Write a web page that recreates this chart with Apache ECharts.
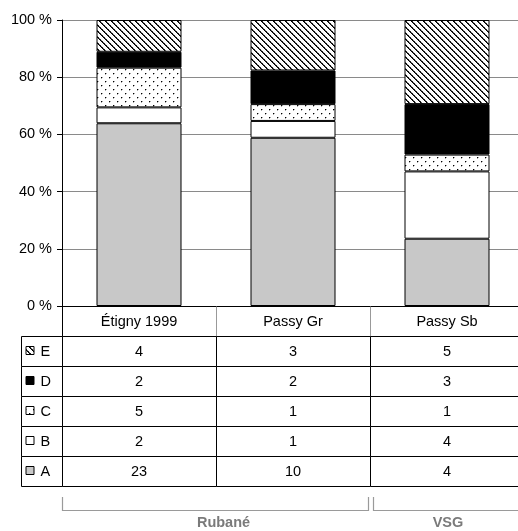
<!DOCTYPE html>
<html><head><meta charset="utf-8">
<script src="https://cdn.jsdelivr.net/npm/echarts@6/dist/echarts.min.js"></script>
<style>html,body{margin:0;padding:0;background:#fff;overflow:hidden}#c{width:524px;height:531px}</style>
</head><body><div id="c"></div>
<script>
// ---- data ----
const categories = ['Étigny 1999', 'Passy Gr', 'Passy Sb'];
const typeNames = ['A', 'B', 'C', 'D', 'E'];
const countA = [23, 10, 4];
const countB = [2, 1, 4];
const countC = [5, 1, 1];
const countD = [2, 2, 3];
const countE = [4, 3, 5];
const yTicks = [0, 20, 40, 60, 80, 100];
const groupNames = ['Rubané', 'VSG'];
const groupStart = [0, 2];
const groupEnd = [1, 2];

// ---- styles ----
const FONT = '"Liberation Sans", Arial, sans-serif';
const FS = 14.5;
function hatchPattern() {
  const c = document.createElement('canvas'); c.width = 6; c.height = 6;
  const g = c.getContext('2d'); g.fillStyle = '#fff'; g.fillRect(0, 0, 6, 6);
  for (let i = 0; i < 6; i++) {
    g.fillStyle = '#000'; g.fillRect(i, i, 1, 1);
    g.fillStyle = i % 2 ? '#222' : '#666'; g.fillRect((i + 1) % 6, i, 1, 1);
  }
  return c;
}
function dotPattern() {
  const c = document.createElement('canvas'); c.width = 8; c.height = 8;
  const g = c.getContext('2d'); g.fillStyle = '#fff'; g.fillRect(0, 0, 8, 8);
  [[1, 1], [5, 5]].forEach(([x, y]) => {
    g.fillStyle = '#000'; g.fillRect(x, y, 1, 1);
    g.fillStyle = '#aaa'; g.fillRect(x + 1, y, 1, 1); g.fillRect(x, y + 1, 1, 1);
  });
  return c;
}
const fills = {
  A: '#c8c8c8',
  B: '#ffffff',
  C: { image: dotPattern(), repeat: 'repeat' },
  D: '#000000',
  E: { image: hatchPattern(), repeat: 'repeat' }
};
const counts = { A: countA, B: countB, C: countC, D: countD, E: countE };
const totals = categories.map((_, i) => typeNames.reduce((s, t) => s + counts[t][i], 0));
const rowLetters = typeNames.slice().reverse(); // E, D, C, B, A

const chart = echarts.init(document.getElementById('c'), null, { renderer: 'canvas' });

const barSeries = typeNames.map(t => ({
  name: t, type: 'bar', stack: 'all', xAxisIndex: 0, yAxisIndex: 0,
  barWidth: 85,
  data: counts[t].map((v, i) => v / totals[i] * 100),
  itemStyle: { color: fills[t], borderColor: '#000', borderWidth: 1 },
  emphasis: { disabled: true }
}));

const tableData = [];
for (let r = 0; r <= rowLetters.length; r++)
  for (let c = 0; c < categories.length; c++) tableData.push([c, r]);

const px = v => Math.round(v) + 0.5;
function line(x1, y1, x2, y2, color) {
  return { type: 'line', shape: { x1, y1, x2, y2 }, style: { stroke: color, lineWidth: 1 } };
}
function tableItem(params, api) {
  const c = api.value(0), r = api.value(1);
  const p = api.coord([c, r]);
  const s = api.size([1, 1]);
  const x0 = px(p[0] - s[0] / 2), x1 = px(p[0] + s[0] / 2);
  const y0 = px(p[1] - s[1] / 2), y1 = px(p[1] + s[1] / 2);
  const ch = [];
  if (r === 0) {
    ch.push(line(x0, y0, x0, y1, c === 0 ? '#000' : '#999'));
  } else {
    const letter = rowLetters[r - 1];
    ch.push(line(x0, y0, x1, y0, '#000'));
    ch.push(line(x0, y0, x0, y1, '#000'));
    if (r === rowLetters.length) ch.push(line(x0, y1, x1, y1, '#000'));
    ch.push({ type: 'text', x: p[0], y: p[1] + 1, style: { text: String(counts[letter][c]), align: 'center', verticalAlign: 'middle', fontSize: FS, fontFamily: FONT, fill: '#000' } });
    if (c === 0) {
      const lx = x0 - 41;
      ch.push(line(lx, y0, x0, y0, '#000'));
      ch.push(line(lx, y0, lx, y1, '#000'));
      if (r === rowLetters.length) ch.push(line(lx, y1, x0, y1, '#000'));
      ch.push({ type: 'rect', shape: { x: lx + 4.5, y: Math.round(p[1]) - 4.5, width: 8, height: 8 }, style: { fill: fills[letter], stroke: '#000', lineWidth: 1 } });
      ch.push({ type: 'text', x: lx + 19, y: p[1] + 1, style: { text: letter, align: 'left', verticalAlign: 'middle', fontSize: FS, fontFamily: FONT, fill: '#000' } });
    }
  }
  return { type: 'group', children: ch };
}

const bracketData = groupNames.map((g, i) => [groupStart[i], rowLetters.length, groupEnd[i], i]);
function bracketItem(params, api) {
  const st = api.value(0), r = api.value(1), en = api.value(2), gi = api.value(3);
  const s = api.size([1, 1]);
  const pa = api.coord([st, r]), pb = api.coord([en, r]);
  const xl = px(pa[0] - s[0] / 2 + (st > 0 ? 3 : 0));
  const xr = px(pb[0] + s[0] / 2 - 2);
  const yb = pa[1] + s[1] / 2;
  const yt = Math.round(yb + 11), ybot = Math.round(yb + 24) + 0.5;
  return {
    type: 'group', children: [
      { type: 'polyline', shape: { points: [[xl, yt], [xl, ybot], [xr, ybot], [xr, yt]] }, style: { stroke: '#9a9a9a', lineWidth: 1.2, fill: null } },
      { type: 'text', x: (xl + xr) / 2 + (st === 0 ? 8 : 0), y: yb + 37, style: { text: groupNames[gi], align: 'center', verticalAlign: 'middle', fontSize: FS, fontWeight: 'bold', fontFamily: FONT, fill: '#7a7a7a' } }
    ]
  };
}

chart.setOption({
  animation: false,
  backgroundColor: '#fff',
  textStyle: { fontFamily: FONT },
  grid: [
    { left: 62, top: 20, width: 462, height: 286 },
    { left: 62, top: 306, width: 462, height: 180 }
  ],
  xAxis: [
    { type: 'category', gridIndex: 0, data: categories,
      axisLine: { show: true, lineStyle: { color: '#000', width: 1 } },
      axisTick: { show: false },
      axisLabel: { fontSize: FS, color: '#000', fontFamily: FONT, margin: 8 } },
    { type: 'category', gridIndex: 1, data: categories, show: false }
  ],
  yAxis: [
    { type: 'value', gridIndex: 0, min: yTicks[0], max: yTicks[yTicks.length - 1], interval: yTicks[1] - yTicks[0],
      axisLine: { show: true, lineStyle: { color: '#000', width: 1 } },
      axisTick: { show: true, length: 5, lineStyle: { color: '#000' } },
      axisLabel: { formatter: v => v + ' %', fontSize: FS, color: '#000', fontFamily: FONT, margin: 10 },
      splitLine: { show: true, lineStyle: { color: '#8a8a8a', width: 1 } } },
    { type: 'category', gridIndex: 1, data: [''].concat(rowLetters), inverse: true, show: false }
  ],
  series: barSeries.concat([
    { type: 'custom', xAxisIndex: 1, yAxisIndex: 1, data: tableData, encode: { x: 0, y: 1 }, renderItem: tableItem, silent: true, clip: false, z: 5 },
    { type: 'custom', xAxisIndex: 1, yAxisIndex: 1, data: bracketData, encode: { x: 0, y: 1 }, renderItem: bracketItem, silent: true, clip: false, z: 5 }
  ])
});
</script>
</body></html>
